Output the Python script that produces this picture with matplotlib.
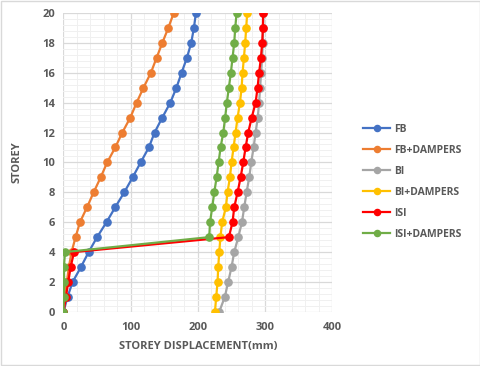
import matplotlib
matplotlib.use('Agg')
import matplotlib.pyplot as plt
from matplotlib.ticker import MultipleLocator
from matplotlib.patches import Rectangle

storey = list(range(0, 21))

# displacement (mm) per storey, 0..20
fb = [0, 6, 13.6, 26, 37.4, 50, 64, 77, 90.4, 102.9, 114.8, 127, 135.5, 147,
      158.9, 168, 175.7, 183.6, 190, 194, 197]
fb_dampers = [0, 2, 5, 8, 12, 18, 24.5, 35, 44.9, 55.3, 65, 77, 87.5, 99.4,
              108.8, 119, 130, 138.5, 147, 155.9, 164]
bi = [231.7, 240, 245, 250, 254, 260, 265.5, 268.9, 272.4, 276.3, 279.3, 282.8,
      285.8, 289, 291, 292.5, 294, 295.5, 296.5, 297, 297.5]
bi_dampers = [225.3, 227.2, 229.2, 230.2, 231.7, 233.5, 236, 241.6, 244, 247.6,
              250, 253, 256, 259, 262.5, 265, 266.4, 268.4, 270.3, 271.8, 273.3]
isi = [0, 3.7, 7, 10.7, 15.6, 246, 251.5, 254, 259, 263.5, 267.4, 270.9, 274.8,
       280, 285.8, 288.7, 291, 293.7, 295.6, 296.6, 297]
isi_dampers = [0, 0.5, 1, 0.7, 2.2, 216.8, 218, 221.3, 224.3, 227.8, 230.7,
               233.7, 237.7, 240.5, 243, 246, 249, 251.5, 254, 255.5, 257.5]

names = ['FB', 'FB+DAMPERS', 'BI', 'BI+DAMPERS', 'ISI', 'ISI+DAMPERS']
series = [fb, fb_dampers, bi, bi_dampers, isi, isi_dampers]
colors = ['#4472C4', '#ED7D31', '#A5A5A5', '#FFC000', '#FF0000', '#70AD47']

plt.rcParams['font.family'] = ['Open Sans', 'DejaVu Sans']
txt = '#595959'

fig = plt.figure(figsize=(4.81, 3.66), dpi=100)
ax = fig.add_axes([0.132, 0.148, 0.559, 0.8165])

for name, vals, c in zip(names, series, colors):
    ax.plot(vals, storey, color=c, lw=1.6, marker='o', ms=5.2, label=name)

ax.set_xlim(0, 400)
ax.set_ylim(0, 20)
ax.xaxis.set_major_locator(MultipleLocator(100))
ax.xaxis.set_minor_locator(MultipleLocator(20))
ax.yaxis.set_major_locator(MultipleLocator(2))
ax.yaxis.set_minor_locator(MultipleLocator(0.4))
ax.grid(which='major', color='#D9D9D9', lw=0.9)
ax.grid(which='minor', color='#F0F0F0', lw=0.7)
ax.set_axisbelow(True)
for s in ax.spines.values():
    s.set_visible(False)
ax.tick_params(which='both', length=0, labelsize=8, labelcolor=txt, pad=6)
ax.tick_params(axis='x', pad=7)
for lab in ax.get_xticklabels() + ax.get_yticklabels():
    lab.set_fontweight('bold')

ax.set_xlabel('STOREY DISPLACEMENT(mm)', fontsize=8, fontweight='bold',
              color=txt, labelpad=6)
ax.set_ylabel('STOREY', fontsize=8, fontweight='bold', color=txt, labelpad=14)

leg = ax.legend(loc='center left', bbox_to_anchor=(1.08, 0.435), frameon=False,
                fontsize=7.5, labelspacing=0.95, handlelength=2.6,
                handletextpad=0.4, markerscale=0.85)
for t in leg.get_texts():
    t.set_color(txt)
    t.set_fontweight('bold')

fig.patches.append(Rectangle((0.002, 0.003), 0.996, 0.994, transform=fig.transFigure,
                             fill=False, edgecolor='#D9D9D9', lw=1))

fig.savefig('out.png', dpi=100)
